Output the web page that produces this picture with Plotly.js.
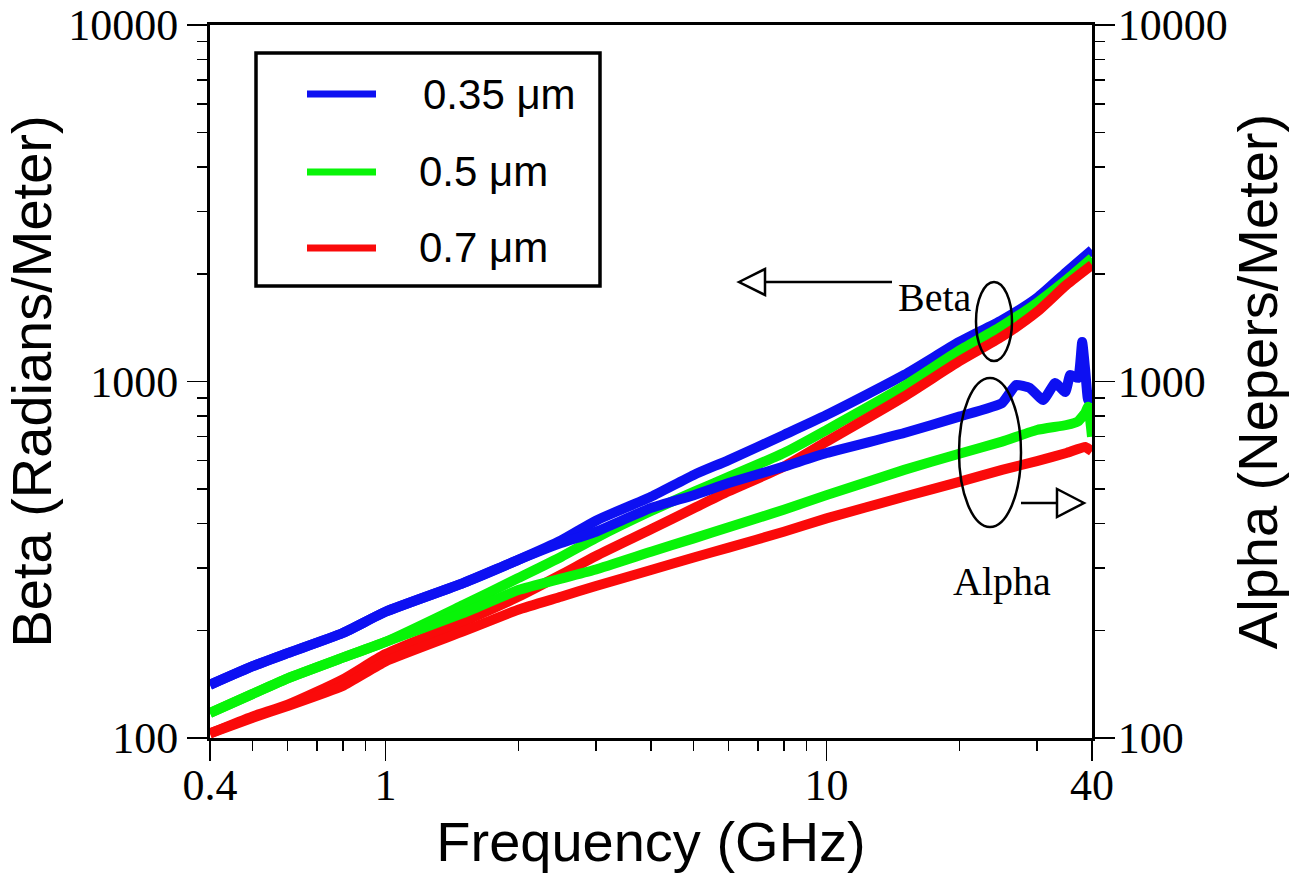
<!DOCTYPE html>
<html>
<head>
<meta charset="utf-8">
<script src="https://cdn.plot.ly/plotly-3.0.1.min.js"></script>
<style>html,body{margin:0;padding:0;background:#fff;}#chart{width:1301px;height:884px;}</style>
</head>
<body>
<div id="chart"></div>
<script>
// ---- data ----
const seriesNames  = ['0.35 \u03bcm', '0.5 \u03bcm', '0.7 \u03bcm'];
const seriesColors = ['#0d10f2', '#08f408', '#fa0a0a'];

// Beta (Radians/Meter), left axis
const freqBeta   = [0.4,0.5,0.6,0.8,1,1.5,2,2.5,3,4,5,6,8,10,15,20,25,30,35,40];
const blueBeta   = [141,159,173,197,226,272,316,358,407,475,547,602,708,805,1043,1291,1488,1715,2029,2338];
const greenBeta  = [117.5,133,147,168,186,236,281,322,364,433,490,540,630,731,971,1221,1431,1661,1927,2220];
const redBeta    = [103,115,124,146,172,212,249,287,324,385,441,492,577,678,907,1139,1336,1567,1866,2123];

// Alpha (Nepers/Meter), right axis
const freqAlphaBlue  = [0.4,0.5,0.6,0.8,1,1.5,2,2.5,3,4,5,6,8,10,15,20,25,26.9,28.9,31.0,33.0,34.8,35.7,37.2,38.0,38.6,39.2,40];
const blueAlpha      = [141,159,173,197,226,272,316,352,379,442,480,519,577,630,717,797,870,978,959,887,990,934,1043,1023,1290,1077,887,947];
const freqAlphaGreen = [0.4,0.5,0.6,0.8,1,1.5,2,2.5,3,4,5,6,8,10,15,20,25,30,35,37.2,38.6,39.2,40];
const greenAlpha     = [117.5,133,147,168,186,224,260,280,297,333,363,390,437,480,565,627,678,731,755,773,816,850,700];
const freqAlphaRed   = [0.4,0.5,0.6,0.8,1,1.5,2,2.5,3,4,5,6,8,10,15,20,25,30,35,38.6,40];
const redAlpha       = [103,114,123,140,164,199,229,249,267,296,321,342,379,413,475,523,565,598,630,655,637];

// axis ticks
const xTickVals  = [0.4, 1, 10, 40];
const xTickText  = ['0.4', '1', '10', '40'];
const xMinorVals = [0.5,0.6,0.7,0.8,0.9,2,3,4,5,6,7,8,9,20,30];
const yTickVals  = [100, 1000, 10000];
const yTickText  = ['100', '1000', '10000'];
const yMinorVals = [200,300,400,500,600,700,800,900,2000,3000,4000,5000,6000,7000,8000,9000];

// ---- traces ----
const betaSets  = [[freqBeta, blueBeta], [freqBeta, greenBeta], [freqBeta, redBeta]];
const alphaSets = [[freqAlphaBlue, blueAlpha], [freqAlphaGreen, greenAlpha], [freqAlphaRed, redAlpha]];
const LW = 10;
const traces = [];
for (let i = 0; i < 3; i++) {
  traces.push({x: betaSets[i][0], y: betaSets[i][1], type: 'scatter', mode: 'lines',
    name: seriesNames[i] + ' Beta', line: {color: seriesColors[i], width: LW, shape: 'spline', smoothing: 0.6},
    xaxis: 'x', yaxis: 'y', showlegend: false});
  traces.push({x: alphaSets[i][0], y: alphaSets[i][1], type: 'scatter', mode: 'lines',
    name: seriesNames[i] + ' Alpha', line: {color: seriesColors[i], width: LW, shape: 'spline', smoothing: 0.4},
    xaxis: 'x', yaxis: 'y2', showlegend: false});
}

// ---- layout ----
const W = 1301, H = 884;
const L = 210, R = 209, T = 25, B = 146;
const pw = W - L - R, ph = H - T - B;
const px = v => (v - L) / pw;          // pixel -> paper x
const py = v => (H - B - v) / ph;      // pixel -> paper y

const tickFont  = {family: 'Liberation Serif, Times New Roman, serif', size: 44, color: '#000'};
const titleFont = {family: 'Liberation Sans, Arial, sans-serif', size: 56, color: '#000'};

function yAxisDef(title, side, standoff) {
  return {
    type: 'log', range: [2, 4], side: side,
    tickmode: 'array', tickvals: yTickVals, ticktext: yTickText,
    ticks: 'outside', ticklen: 20, tickwidth: 1.5, tickcolor: '#000',
    minor: {tickmode: 'array', tickvals: yMinorVals, ticks: 'outside', ticklen: 10, tickwidth: 1.5, tickcolor: '#000', showgrid: false},
    showline: true, linewidth: 3, linecolor: '#000',
    showgrid: false, zeroline: false, tickfont: tickFont,
    ticklabelstandoff: standoff,
    title: {text: title, font: titleFont, standoff: 12},
    automargin: false
  };
}

const shapes = [];
const annotations = [];

// legend box (custom, to match the long swatches)
shapes.push({type: 'rect', xref: 'paper', yref: 'paper', x0: px(256), x1: px(600), y0: py(286), y1: py(53),
  line: {color: '#000', width: 3.5}, fillcolor: 'rgba(255,255,255,0)'});
const legY = [94, 172, 248];
const legTextX = [421, 417, 417];
for (let i = 0; i < 3; i++) {
  shapes.push({type: 'line', xref: 'paper', yref: 'paper', x0: px(307), x1: px(376), y0: py(legY[i]), y1: py(legY[i]),
    line: {color: seriesColors[i], width: 7}});
  annotations.push({xref: 'paper', yref: 'paper', x: px(legTextX[i]), y: py(legY[i]), xanchor: 'left', yanchor: 'middle',
    text: seriesNames[i], showarrow: false, font: {family: 'Liberation Sans, Arial, sans-serif', size: 42, color: '#000'}});
}

// Beta marker: ellipse, arrow to the left
shapes.push({type: 'circle', xref: 'paper', yref: 'paper', x0: px(976), x1: px(1012), y0: py(361), y1: py(282),
  line: {color: '#000', width: 2.5}});
shapes.push({type: 'line', xref: 'paper', yref: 'paper', x0: px(765), x1: px(892), y0: py(282), y1: py(282),
  line: {color: '#000', width: 2.5}});
shapes.push({type: 'path', xref: 'paper', yref: 'paper',
  path: `M ${px(739)} ${py(282)} L ${px(765)} ${py(269)} L ${px(765)} ${py(295)} Z`,
  line: {color: '#000', width: 2.5}, fillcolor: '#fff'});
annotations.push({xref: 'paper', yref: 'paper', x: px(935), y: py(297), xanchor: 'center', yanchor: 'middle',
  text: 'Beta', showarrow: false, font: {family: 'Liberation Serif, Times New Roman, serif', size: 40, color: '#000'}});

// Alpha marker: ellipse, arrow to the right
shapes.push({type: 'circle', xref: 'paper', yref: 'paper', x0: px(959), x1: px(1021), y0: py(527), y1: py(378),
  line: {color: '#000', width: 2.5}});
shapes.push({type: 'line', xref: 'paper', yref: 'paper', x0: px(1021), x1: px(1057), y0: py(503), y1: py(503),
  line: {color: '#000', width: 2.5}});
shapes.push({type: 'path', xref: 'paper', yref: 'paper',
  path: `M ${px(1084)} ${py(503)} L ${px(1057)} ${py(489)} L ${px(1057)} ${py(517)} Z`,
  line: {color: '#000', width: 2.5}, fillcolor: '#fff'});
annotations.push({xref: 'paper', yref: 'paper', x: px(1002), y: py(581), xanchor: 'center', yanchor: 'middle',
  text: 'Alpha', showarrow: false, font: {family: 'Liberation Serif, Times New Roman, serif', size: 40, color: '#000'}});

const layout = {
  width: W, height: H,
  margin: {l: L, r: R, t: T, b: B, pad: 0},
  paper_bgcolor: '#fff', plot_bgcolor: '#fff',
  showlegend: false,
  xaxis: {
    type: 'log', range: [Math.log10(0.4), Math.log10(40)],
    tickmode: 'array', tickvals: xTickVals, ticktext: xTickText,
    ticks: 'outside', ticklen: 20, tickwidth: 1.5, tickcolor: '#000',
    minor: {tickmode: 'array', tickvals: xMinorVals, ticks: 'outside', ticklen: 10, tickwidth: 1.5, tickcolor: '#000', showgrid: false},
    showline: true, linewidth: 3, linecolor: '#000', mirror: true,
    showgrid: false, zeroline: false, tickfont: tickFont,
    ticklabelstandoff: -14,
    title: {text: 'Frequency (GHz)', font: titleFont, standoff: 10},
    automargin: false
  },
  yaxis: yAxisDef('Beta (Radians/Meter)', 'left', 0),
  yaxis2: Object.assign(yAxisDef('Alpha (Nepers/Meter)', 'right', -6), {overlaying: 'y'}),
  shapes: shapes,
  annotations: annotations
};

Plotly.newPlot('chart', traces, layout, {displayModeBar: false, staticPlot: true});
</script>
</body>
</html>
